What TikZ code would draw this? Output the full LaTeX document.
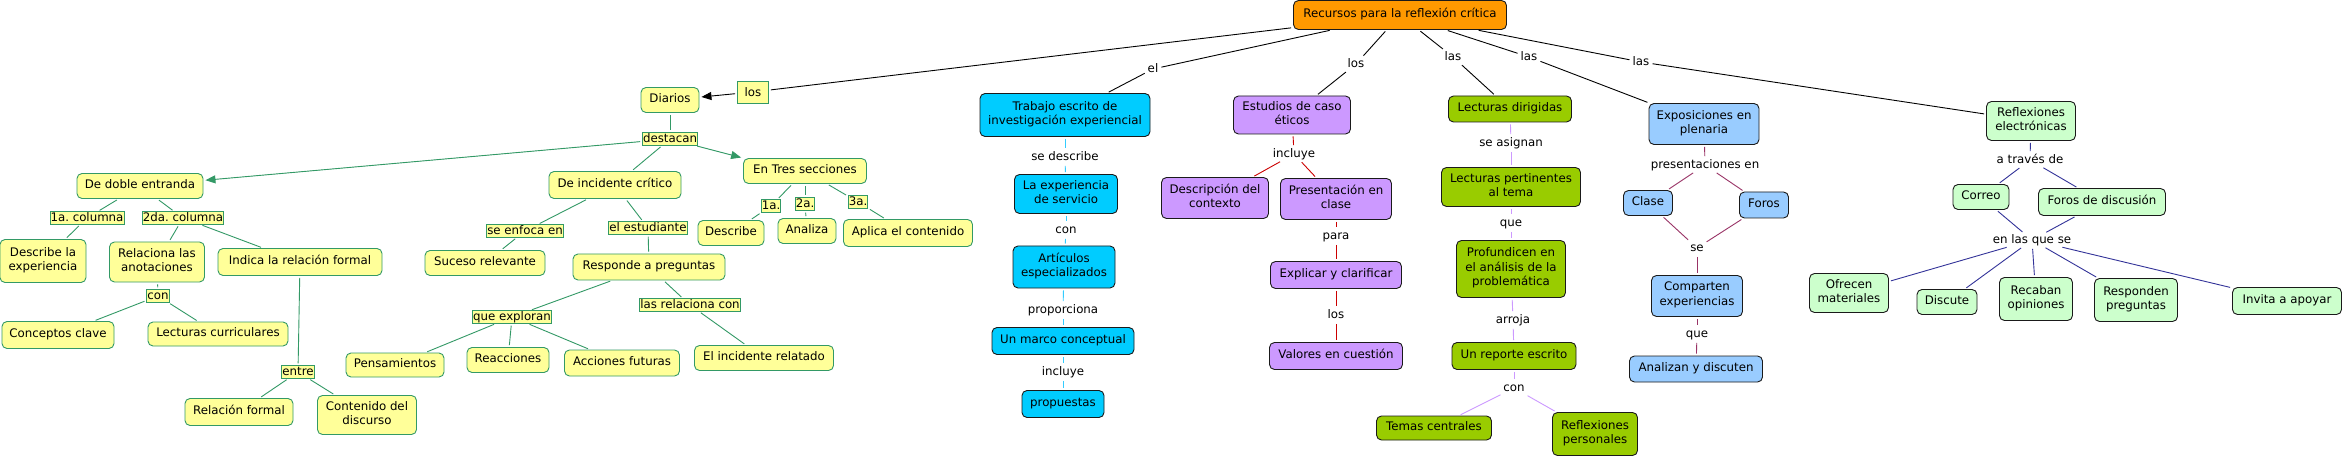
\documentclass[tikz,border=0pt]{standalone}
\usepackage{fontspec}
\setmainfont{DejaVu Sans}
\usetikzlibrary{arrows.meta}
\definecolor{cOrange}{HTML}{FF9900}
\definecolor{cCyan}{HTML}{00CCFF}
\definecolor{cPurple}{HTML}{CC99FF}
\definecolor{cGreen}{HTML}{99CC00}
\definecolor{cBlue}{HTML}{99CCFF}
\definecolor{cLGreen}{HTML}{CCFFCC}
\definecolor{cYellow}{HTML}{FFFF99}
\definecolor{cTeal}{HTML}{339966}
\definecolor{lCyan}{HTML}{33CCFF}
\definecolor{lRed}{HTML}{CC0000}
\definecolor{lLav}{HTML}{CC99FF}
\definecolor{lMaroon}{HTML}{993366}
\definecolor{lNavy}{HTML}{333399}
\definecolor{cBorder}{HTML}{1A1A1A}
\newcommand\mapfont{\fontsize{11.8}{14.5}\selectfont\frenchspacing}
\begin{document}
\begin{tikzpicture}[x=1pt,y=-1pt,
 concept/.style={draw=cBorder, line width=0.9pt, rounded corners=5pt, align=center, inner sep=1pt, font=\mapfont, execute at begin node=\strut, execute at end node=\strut},
 yel/.style={concept, draw=cTeal, fill=cYellow},
 orangebox/.style={concept, fill=cOrange},
 cyanbox/.style={concept, fill=cCyan},
 purplebox/.style={concept, fill=cPurple},
 greenbox/.style={concept, fill=cGreen},
 bluebox/.style={concept, fill=cBlue},
 lgbox/.style={concept, fill=cLGreen},
 sz/.style 2 args={minimum width=#1, minimum height=#2},
 ylab/.style={draw=cTeal, fill=cYellow, line width=0.8pt, inner sep=0.6pt, text height=8.8pt, text depth=2.4pt, font=\mapfont},
 ylabbig/.style={draw=cTeal, fill=cYellow, line width=0.9pt, inner sep=0pt, minimum width=31, minimum height=22, font=\mapfont},
 plab/.style={inner sep=1pt, text height=8.8pt, text depth=2.4pt, font=\mapfont},
 link/.style={line width=0.9pt, shorten <=2pt, shorten >=2pt},
 tip/.style={-{Triangle[length=10pt,width=8pt]}},
]
\useasboundingbox (0,0) rectangle (2343,457);
\fill[white] (0,0) rectangle (2343,457);

% root and first level labels
\node[orangebox, sz={213}{29}] (root) at (1400,15) {Recursos para la reflexión crítica};
\node[ylabbig] (ldiar) at (753,92) {los};
\node[plab] (lel) at (1153,69) {el};
\node[plab] (llos) at (1356,64) {los};
\node[plab] (llas1) at (1453,57) {las};
\node[plab] (llas2) at (1529,57) {las};
\node[plab] (llas3) at (1641,62) {las};

% Diarios branch
\node[yel, sz={58}{25}] (diarios) at (670,100) {Diarios};
\node[ylab] (destacan) at (670,139) {destacan};
\node[yel, sz={126}{25}] (doble) at (140,186) {De doble entranda};
\node[ylab] (col1) at (87,218) {1a. columna};
\node[ylab] (col2) at (183,218) {2da. columna};
\node[yel, sz={86}{43}] (descexp) at (43,261) {Describe la\\experiencia};
\node[yel, sz={95}{40}] (relaciona) at (157,262) {Relaciona las\\anotaciones};
\node[yel, sz={164}{27}] (indica) at (300,262) {Indica la relación formal};
\node[ylab] (con0) at (158,296) {con};
\node[yel, sz={112}{27}] (conceptos) at (58,335) {Conceptos clave};
\node[yel, sz={140}{24}] (lectcurr) at (218,334) {Lecturas curriculares};
\node[ylab] (entre) at (298,372) {entre};
\node[yel, sz={108}{27}] (relformal) at (239,412) {Relación formal};
\node[yel, sz={99}{39}] (contenido) at (367,415) {Contenido del\\discurso};
\node[yel, sz={132}{27}] (incidente) at (615,185) {De incidente crítico};
\node[ylab] (enfoca) at (525,231) {se enfoca en};
\node[yel, sz={120}{25}] (suceso) at (485,263) {Suceso relevante};
\node[ylab] (estud) at (648,228) {el estudiante};
\node[yel, sz={152}{26}] (responde) at (649,267) {Responde a preguntas};
\node[ylab] (exploran) at (512,317) {que exploran};
\node[ylab] (relcon) at (690,305) {las relaciona con};
\node[yel, sz={98}{24}] (pensam) at (395,365) {Pensamientos};
\node[yel, sz={82}{25}] (reacc) at (508,360) {Reacciones};
\node[yel, sz={115}{26}] (acciones) at (622,363) {Acciones futuras};
\node[yel, sz={139}{25}] (increl) at (764,358) {El incidente relatado};
\node[yel, sz={123}{25}] (entres) at (805,171) {En Tres secciones};
\node[ylab] (s1) at (771,206) {1a.};
\node[ylab] (s2) at (805,204) {2a.};
\node[ylab] (s3) at (858,202) {3a.};
\node[yel, sz={66}{25}] (describe) at (731,233) {Describe};
\node[yel, sz={58}{25}] (analiza) at (807,231) {Analiza};
\node[yel, sz={129}{27}] (aplica) at (908,233) {Aplica el contenido};

% cyan branch
\node[cyanbox, sz={170}{43}] (trabajo) at (1065,115) {Trabajo escrito de\\investigación experiencial};
\node[plab] (sedesc) at (1065,157) {se describe};
\node[cyanbox, sz={103}{39}] (experiencia) at (1066,194) {La experiencia\\de servicio};
\node[plab] (con1) at (1066,230) {con};
\node[cyanbox, sz={102}{42}] (articulos) at (1064,267) {Artículos\\especializados};
\node[plab] (proporciona) at (1063,310) {proporciona};
\node[cyanbox, sz={142}{27}] (marco) at (1063,341) {Un marco conceptual};
\node[plab] (incl1) at (1063,372) {incluye};
\node[cyanbox, sz={82}{27}] (propuestas) at (1063,404) {propuestas};

% purple branch
\node[purplebox, sz={117}{38}] (estudios) at (1292,115) {Estudios de caso\\éticos};
\node[plab] (incl2) at (1294,154) {incluye};
\node[purplebox, sz={107}{41}] (descripcion) at (1215,198) {Descripción del\\contexto};
\node[purplebox, sz={111}{41}] (presentacion) at (1336,199) {Presentación en\\clase};
\node[plab] (para) at (1336,236) {para};
\node[purplebox, sz={131}{27}] (explicar) at (1336,275) {Explicar y clarificar};
\node[plab] (los3) at (1336,315) {los};
\node[purplebox, sz={133}{27}] (valores) at (1336,356) {Valores en cuestión};

% green branch
\node[greenbox, sz={123}{26}] (lectdir) at (1510,109) {Lecturas dirigidas};
\node[plab] (asignan) at (1511,143) {se asignan};
\node[greenbox, sz={139}{39}] (lectpert) at (1511,187) {Lecturas pertinentes\\al tema};
\node[plab] (que1) at (1511,223) {que};
\node[greenbox, sz={109}{57}] (profund) at (1511,269) {Profundicen en\\el análisis de la\\problemática};
\node[plab] (arroja) at (1513,320) {arroja};
\node[greenbox, sz={124}{27}] (reporte) at (1514,356) {Un reporte escrito};
\node[plab] (con2) at (1514,388) {con};
\node[greenbox, sz={115}{24}] (temas) at (1434,428) {Temas centrales};
\node[greenbox, sz={85}{43}] (reflpers) at (1595,434) {Reflexiones\\personales};

% blue branch
\node[bluebox, sz={110}{41}] (expos) at (1704,124) {Exposiciones en\\plenaria};
\node[plab] (present) at (1705,165) {presentaciones en};
\node[bluebox, sz={49}{25}] (clase) at (1648,203) {Clase};
\node[bluebox, sz={49}{26}] (foros) at (1764,205) {Foros};
\node[plab] (se) at (1697,248) {se};
\node[bluebox, sz={91}{41}] (comparten) at (1697,296) {Comparten\\experiencias};
\node[plab] (que2) at (1697,334) {que};
\node[bluebox, sz={133}{26}] (analizan) at (1696,369) {Analizan y discuten};

% light green branch
\node[lgbox, sz={89}{39}] (reflelec) at (2031,121) {Reflexiones\\electrónicas};
\node[plab] (atraves) at (2030,160) {a través de};
\node[lgbox, sz={56}{25}] (correo) at (1981,197) {Correo};
\node[lgbox, sz={127}{27}] (forosd) at (2102,202) {Foros de discusión};
\node[plab] (enlas) at (2032,240) {en las que se};
\node[lgbox, sz={79}{39}] (ofrecen) at (1849,293) {Ofrecen\\materiales};
\node[lgbox, sz={60}{25}] (discute) at (1947,302) {Discute};
\node[lgbox, sz={73}{43}] (recaban) at (2036,299) {Recaban\\opiniones};
\node[lgbox, sz={83}{43}] (responden) at (2136,300) {Responden\\preguntas};
\node[lgbox, sz={109}{27}] (invita) at (2287,301) {Invita a apoyar};

% root links
\draw[link] (root) -- (ldiar);
\draw[link, tip] (ldiar) -- (diarios);
\draw[link] (root) -- (lel);
\draw[link] (lel) -- (trabajo);
\draw[link] (root) -- (llos);
\draw[link] (llos) -- (estudios);
\draw[link] (root) -- (llas1);
\draw[link] (llas1) -- (lectdir);
\draw[link] (root) -- (llas2);
\draw[link] (llas2) -- (expos);
\draw[link] (root) -- (llas3);
\draw[link] (llas3) -- (reflelec);

% Diarios links
\begin{scope}[every path/.style={draw=cTeal, fill=none}]
\draw[link] (diarios) -- (destacan);
\draw[link, tip, fill=cTeal] (destacan) -- (doble);
\draw[link, tip, fill=cTeal] (destacan) -- (entres.north west);
\draw[link] (destacan) -- (incidente);
\draw[link] (doble) -- (col1);
\draw[link] (doble) -- (col2);
\draw[link] (col1) -- (descexp);
\draw[link] (col2) -- (relaciona);
\draw[link] (col2) -- (indica);
\draw[link] (relaciona) -- (con0);
\draw[link] (con0) -- (conceptos);
\draw[link] (con0) -- (lectcurr);
\draw[link] (indica) -- (entre);
\draw[link] (entre) -- (relformal);
\draw[link] (entre) -- (contenido);
\draw[link] (incidente) -- (enfoca);
\draw[link] (enfoca) -- (suceso);
\draw[link] (incidente) -- (estud);
\draw[link] (estud) -- (responde);
\draw[link] (responde) -- (exploran);
\draw[link] (responde) -- (relcon);
\draw[link] (relcon) -- (increl);
\draw[link] (exploran) -- (pensam);
\draw[link] (exploran) -- (reacc);
\draw[link] (exploran) -- (acciones);
\draw[link] (entres) -- (s1);
\draw[link] (s1) -- (describe);
\draw[link] (entres) -- (s2);
\draw[link] (s2) -- (analiza);
\draw[link] (entres) -- (s3);
\draw[link] (s3) -- (aplica);
\end{scope}

% cyan links
\begin{scope}[lCyan]
\draw[link] (trabajo) -- (sedesc);
\draw[link] (sedesc) -- (experiencia);
\draw[link] (experiencia) -- (con1);
\draw[link] (con1) -- (articulos);
\draw[link] (articulos) -- (proporciona);
\draw[link] (proporciona) -- (marco);
\draw[link] (marco) -- (incl1);
\draw[link] (incl1) -- (propuestas);
\end{scope}

% purple links
\begin{scope}[lRed]
\draw[link] (estudios) -- (incl2);
\draw[link] (incl2) -- (descripcion);
\draw[link] (incl2) -- (presentacion);
\draw[link] (presentacion) -- (para);
\draw[link] (para) -- (explicar);
\draw[link] (explicar) -- (los3);
\draw[link] (los3) -- (valores);
\end{scope}

% green links
\begin{scope}[lLav]
\draw[link] (lectdir) -- (asignan);
\draw[link] (asignan) -- (lectpert);
\draw[link] (lectpert) -- (que1);
\draw[link] (que1) -- (profund);
\draw[link] (profund) -- (arroja);
\draw[link] (arroja) -- (reporte);
\draw[link] (reporte) -- (con2);
\draw[link] (con2) -- (temas);
\draw[link] (con2) -- (reflpers);
\end{scope}

% blue links
\begin{scope}[lMaroon]
\draw[link] (expos) -- (present);
\draw[link] (present) -- (clase);
\draw[link] (present) -- (foros);
\draw[link] (clase) -- (se);
\draw[link] (foros) -- (se);
\draw[link] (se) -- (comparten);
\draw[link] (comparten) -- (que2);
\draw[link] (que2) -- (analizan);
\end{scope}

% light green links
\begin{scope}[lNavy]
\draw[link] (reflelec) -- (atraves);
\draw[link] (atraves) -- (correo);
\draw[link] (atraves) -- (forosd);
\draw[link] (correo) -- (enlas);
\draw[link] (forosd) -- (enlas);
\draw[link] (enlas) -- (ofrecen);
\draw[link] (enlas) -- (discute);
\draw[link] (enlas) -- (recaban);
\draw[link] (enlas) -- (responden);
\draw[link] (enlas) -- (invita);
\end{scope}
\end{tikzpicture}
\end{document}
